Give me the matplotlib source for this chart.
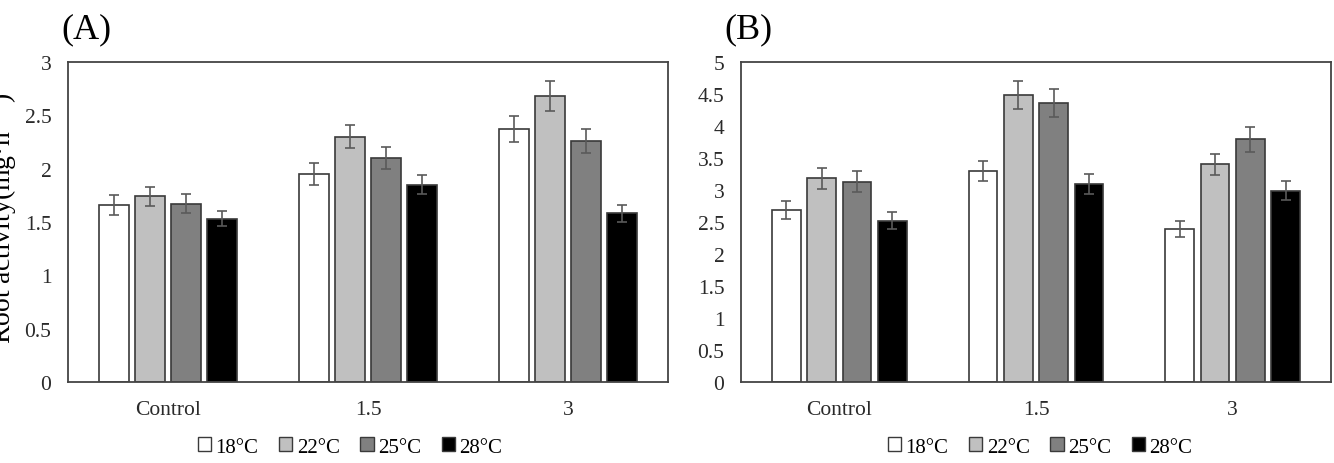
import numpy as np
import matplotlib
matplotlib.use('Agg')
import matplotlib.pyplot as plt
from matplotlib.patches import Patch

plt.rcParams['font.family'] = ['Liberation Serif', 'DejaVu Serif']

categories = ['Control', '1.5', '3']
temps = ['18°C', '22°C', '25°C', '28°C']
colors = ['#ffffff', '#c0c0c0', '#808080', '#000000']

# (A) values per temperature, across categories
vals_a = {
    '18°C': [1.66, 1.95, 2.37],
    '22°C': [1.74, 2.30, 2.68],
    '25°C': [1.67, 2.10, 2.26],
    '28°C': [1.53, 1.85, 1.58],
}
err_a = {
    '18°C': [0.09, 0.10, 0.12],
    '22°C': [0.09, 0.11, 0.14],
    '25°C': [0.09, 0.10, 0.11],
    '28°C': [0.07, 0.09, 0.08],
}
# (B)
vals_b = {
    '18°C': [2.69, 3.30, 2.39],
    '22°C': [3.18, 4.49, 3.40],
    '25°C': [3.13, 4.36, 3.79],
    '28°C': [2.52, 3.09, 2.99],
}
err_b = {
    '18°C': [0.14, 0.16, 0.13],
    '22°C': [0.17, 0.22, 0.16],
    '25°C': [0.16, 0.22, 0.19],
    '28°C': [0.13, 0.16, 0.15],
}

fig = plt.figure(figsize=(13.34, 4.64), dpi=100)
W, H = 1334, 464
ax_a = fig.add_axes([68 / W, 1 - 383 / H, 600 / W, 320 / H])
ax_b = fig.add_axes([741 / W, 1 - 383 / H, 590 / W, 320 / H])

bw = 0.146
step = 0.18
x = np.arange(len(categories))

def draw(ax, vals, errs, ymax, yticks, leg_x):
    for i, t in enumerate(temps):
        off = (i - 1.5) * step
        ax.bar(x + off, vals[t], bw, color=colors[i], edgecolor='#3a3a3a',
               linewidth=1.2, zorder=2)
        ax.errorbar(x + off, vals[t], yerr=errs[t], fmt='none', ecolor='#5a5a5a',
                    elinewidth=1.2, capsize=3.5, capthick=1.2, zorder=3)
    ax.set_xlim(-0.5, 2.5)
    ax.set_ylim(0, ymax)
    ax.set_yticks(yticks)
    ax.set_yticklabels([('%g' % v) for v in yticks])
    ax.set_xticks(x)
    ax.set_xticklabels(categories)
    ax.tick_params(axis='both', length=0, labelsize=15.5, colors='#2a2a2a')
    ax.tick_params(axis='x', pad=13)
    ax.tick_params(axis='y', pad=12)
    for s in ax.spines.values():
        s.set_color('#444444')
        s.set_linewidth(1.3)
    handles = [Patch(facecolor=colors[i], edgecolor='#3a3a3a', linewidth=1.0, label=t)
               for i, t in enumerate(temps)]
    fig.legend(handles=handles, loc='center', bbox_to_anchor=(leg_x / W, 1 - 448 / H),
               ncol=4, frameon=False, fontsize=15, handlelength=0.65, handleheight=0.65,
               handletextpad=0.2, columnspacing=1.0, borderpad=0)

draw(ax_a, vals_a, err_a, 3, [0, 0.5, 1, 1.5, 2, 2.5, 3], 350)
draw(ax_b, vals_b, err_b, 5, [0, 0.5, 1, 1.5, 2, 2.5, 3, 3.5, 4, 4.5, 5], 1040)

fig.text(61 / W, 1 - 30 / H, '(A)', fontsize=26, va='center', ha='left')
fig.text(724 / W, 1 - 30 / H, '(B)', fontsize=26, va='center', ha='left')
# y label is partly cut at the left edge in the original figure
fig.text(1 / W, 1 - 218 / H, 'Root activity(mg·h$^{-1}$)', fontsize=20, rotation=90,
         va='center', ha='center')

fig.savefig('out.png', dpi=100)
